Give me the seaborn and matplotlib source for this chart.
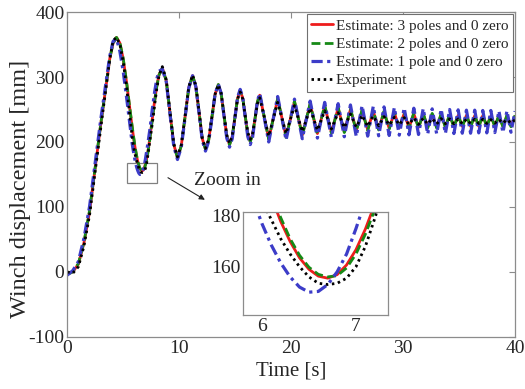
import matplotlib
matplotlib.use("Agg")
import matplotlib.pyplot as plt
from matplotlib.patches import Rectangle
import seaborn as sns

# ---------------- data ----------------
time_s = [0, 0.5, 1.0, 1.5, 2.0, 2.5, 3.0, 3.5, 3.8, 4.1, 4.4,
          4.7, 5.0, 5.3, 5.6,
          5.8, 5.9, 6.0, 6.1, 6.2, 6.3, 6.4, 6.5, 6.6, 6.7, 6.8, 6.9, 7.0, 7.1, 7.2, 7.3, 7.4,
          7.6, 7.8, 8.0, 8.2, 8.5,
          8.85, 9.18, 9.52, 9.85, 10.19, 10.53, 10.86, 11.2, 11.49, 11.78, 12.06, 12.35,
          12.64, 12.93, 13.21, 13.5, 13.75, 14.0, 14.25, 14.5, 14.74, 14.98, 15.21, 15.45,
          15.68, 15.9, 16.13, 16.35, 16.56, 16.78, 16.99, 17.2,
          17.6, 18.0, 18.4, 18.8, 19.18, 19.55, 19.93, 20.3,
          21.0, 21.7, 22.35, 23.0, 23.6, 24.2, 24.75, 25.3, 25.82, 26.34, 26.84, 27.34,
          27.82, 28.3, 28.76, 29.22, 29.66, 30.1, 30.53, 30.96, 31.38, 31.8, 32.2, 32.6,
          33.0, 33.4, 33.78, 34.16, 34.54, 34.92, 35.29, 35.66, 36.03, 36.4, 36.76, 37.12,
          37.48, 37.84, 38.2, 38.56, 38.92, 39.28, 39.64, 40.0]

est_3_poles = [-3, 0, 12, 45, 93, 160, 228, 290, 328, 352, 361,
               352.5, 328, 292, 250.5,
               223, 210.3, 198.1, 187.4, 177.8, 169.9, 163.5, 159, 156.3, 155.5, 156.9, 160.7,
               166.7, 174.8, 184.6, 195.9, 208.4,
               235.4, 262.4, 286, 303.5, 314,
               293.8, 245, 196.1, 176, 194.4, 239, 283.6, 302, 285.5, 245.5, 205.5, 189,
               203.5, 238.5, 273.5, 288, 274.6, 242, 209.4, 196, 208.1, 237.5, 266.9, 279,
               267.6, 240, 212.4, 201, 211.4, 236.5, 261.6, 272,
               238.5, 205, 235.5, 266, 237, 208, 235, 262,
               211, 258, 213, 255, 215, 252, 216, 250, 218, 248, 219, 247,
               220, 246, 221, 245, 221.5, 244, 222, 243.5, 222.5, 243, 223, 242.5,
               223, 242, 223.5, 241.5, 223.5, 241, 224, 241, 224, 240.5, 224, 240.5,
               224.5, 240, 224.5, 240, 224.5, 240, 225, 239.5]

est_2_poles = [-4, 0, 13, 46, 95, 161, 228, 291, 329, 352, 361,
               353, 329, 293, 251.5,
               224.5, 212, 200, 189, 179.3, 171, 164.5, 159.8, 157, 156, 156.5, 159.5,
               165, 172.8, 182.5, 194, 206.5,
               234, 261, 285, 303, 314.5,
               294, 245.5, 196.5, 175.5, 194, 239, 283.5, 302.5, 286, 246, 205.5, 188.5,
               203, 238.5, 273.5, 288.5, 275, 242, 209, 195.5, 208, 237.5, 267, 279.5,
               268, 240, 212, 200.5, 211, 236.5, 262, 272.5,
               238.5, 204, 235.5, 267, 237, 207, 235, 263,
               209.5, 259.5, 211.5, 256.5, 213.5, 253.5, 214.5, 251.5, 216.5, 249.5, 217.5, 248.5,
               218.5, 247.5, 219.5, 246.5, 220, 245.5, 220.5, 245, 221, 244.5, 221.5, 244,
               221.5, 243.5, 222, 243, 222, 242.5, 222.5, 242.5, 222.5, 242, 222.5, 242,
               223, 241.5, 223, 241.5, 223, 241.5, 223.5, 241]

est_1_pole = [-5, 2, 16, 52, 101, 168, 235, 296, 332, 355, 359,
              340, 309, 269, 227,
              198, 187, 177, 168.5, 161.5, 156, 152, 150, 150.3, 153, 158, 165,
              175, 186, 197, 209, 221,
              250, 276, 297, 309, 312,
              292.6, 243, 193.4, 173, 191.8, 237.5, 283.2, 302, 285.1, 244, 202.9, 186,
              201, 237.5, 274, 289, 274.8, 240.5, 206.2, 192, 205, 236.5, 268, 281,
              268.6, 238.5, 208.4, 196, 207.5, 235.5, 263.5, 275,
              237.5, 200, 235, 270, 236.5, 203, 234.5, 266,
              205, 263, 206, 261, 207, 259, 208, 257, 208.5, 256, 209, 255,
              209.5, 254, 210, 253, 210.5, 252.5, 211, 252, 211.5, 251.5, 212, 251,
              212.5, 250.5, 213, 250, 213, 249.5, 213.5, 249, 213.5, 249, 214, 248.5,
              214, 248.5, 214.5, 248, 214.5, 248, 215, 247.5]

experiment = [0, -2, 8, 40, 88, 155, 222, 288, 327, 356, 361,
              351, 324, 285, 240,
              208, 196, 186, 178.5, 171, 165, 160, 156, 153.5, 153, 153.5, 155.5,
              160, 168, 179, 191, 204,
              228, 256, 282, 302, 316,
              295.7, 246.5, 197.3, 177, 195.4, 240, 284.6, 303, 286.5, 246.5, 206.5, 190,
              204.3, 239, 273.7, 288, 274.9, 243, 211.1, 198, 209.5, 237.5, 265.5, 277,
              266.3, 240.5, 214.7, 204, 213.3, 236, 258.7, 268,
              238.5, 209, 235, 261, 237, 213, 234.5, 256,
              216, 252, 218, 248, 220, 245, 222, 243, 223, 241, 224, 240,
              225, 239, 226, 238, 226.5, 237.5, 227, 237, 227, 236.5, 227.5, 236,
              227.5, 236, 228, 235.5, 228, 235.5, 228, 235, 228.5, 235, 228.5, 235,
              228.5, 234.5, 229, 234.5, 229, 234.5, 229, 234]

series_labels = ["Estimate: 3 poles and 0 zero",
                 "Estimate: 2 poles and 0 zero",
                 "Estimate: 1 pole and 0 zero",
                 "Experiment"]
x_ticks = [0, 10, 20, 30, 40]
y_ticks = [-100, 0, 100, 200, 300, 400]
inset_x_ticks = [6, 7]
inset_y_ticks = [160, 180]

# ---------------- style ----------------
sns.set_style("white")
plt.rcParams["font.family"] = ["Liberation Serif", "DejaVu Serif"]
plt.rcParams["axes.unicode_minus"] = False

series = [est_3_poles, est_2_poles, est_1_pole, experiment]
colors = ["#ee1c1c", "#168a16", "#3c3cc8", "#000000"]
styles = ["-", (0, (3.2, 1.6)), (0, (3.5, 1.4, 1.0, 1.4)), (0, (0.9, 1.3))]
widths = [2.0, 2.0, 2.3, 2.0]
spine_col = "#8c8c8c"

fig = plt.figure(figsize=(5.25, 3.89), dpi=100)
ax = fig.add_axes([0.128, 0.134, 0.853, 0.835])

for vals, lab, c, ls, lw in zip(series, series_labels, colors, styles, widths):
    sns.lineplot(x=time_s, y=vals, ax=ax, color=c, linestyle=ls, linewidth=lw,
                 label=lab, sort=False, estimator=None)

ax.set_xlim(0, 40)
ax.set_ylim(-100, 400)
ax.set_xticks(x_ticks)
ax.set_yticks(y_ticks)
ax.tick_params(direction="in", top=True, right=True, length=4, width=0.8,
               color=spine_col, labelsize=14, pad=2)
for sp in ax.spines.values():
    sp.set_color(spine_col)
    sp.set_linewidth(0.9)
ax.set_xlabel("Time [s]", fontsize=15)
ax.set_ylabel("Winch displacement [mm]", fontsize=17.5)
ax.xaxis.set_label_coords(0.5, -0.075)
ax.yaxis.set_label_coords(-0.08, 0.455)

leg = ax.legend(loc="upper right", fontsize=11, frameon=True, fancybox=False,
                borderaxespad=0.15, handlelength=1.4, handletextpad=0.2,
                labelspacing=0.3, borderpad=0.3)
leg.get_frame().set_edgecolor("#707070")
leg.get_frame().set_linewidth(0.8)
leg.get_frame().set_alpha(1)

# zoom box and annotation
ax.add_patch(Rectangle((5.3, 137), 2.7, 30, fill=False, edgecolor="#808080", linewidth=0.9))
ax.text(14.3, 141, "Zoom in", fontsize=14, ha="center", va="center")
ax.annotate("", xy=(12.3, 111), xytext=(9.0, 145),
            arrowprops=dict(arrowstyle="-|>", color="#222222", lw=0.8,
                            mutation_scale=8, shrinkA=0, shrinkB=0))

# inset
axin = fig.add_axes([0.463, 0.190, 0.276, 0.265])
for vals, c, ls, lw in zip(series, colors, styles, widths):
    sns.lineplot(x=time_s, y=vals, ax=axin, color=c, linestyle=ls, linewidth=lw,
                 sort=False, estimator=None, legend=False)
axin.set_xlim(5.8, 7.34)
axin.set_ylim(141, 181.5)
axin.set_xticks(inset_x_ticks)
axin.set_yticks(inset_y_ticks)
axin.tick_params(direction="in", top=False, right=False, length=3, width=0.8,
                 color=spine_col, labelsize=14, pad=2)
axin.set_xlabel("")
axin.set_ylabel("")
for sp in axin.spines.values():
    sp.set_color(spine_col)
    sp.set_linewidth(0.9)
axin.set_facecolor("white")

fig.savefig("out.png", dpi=100)
